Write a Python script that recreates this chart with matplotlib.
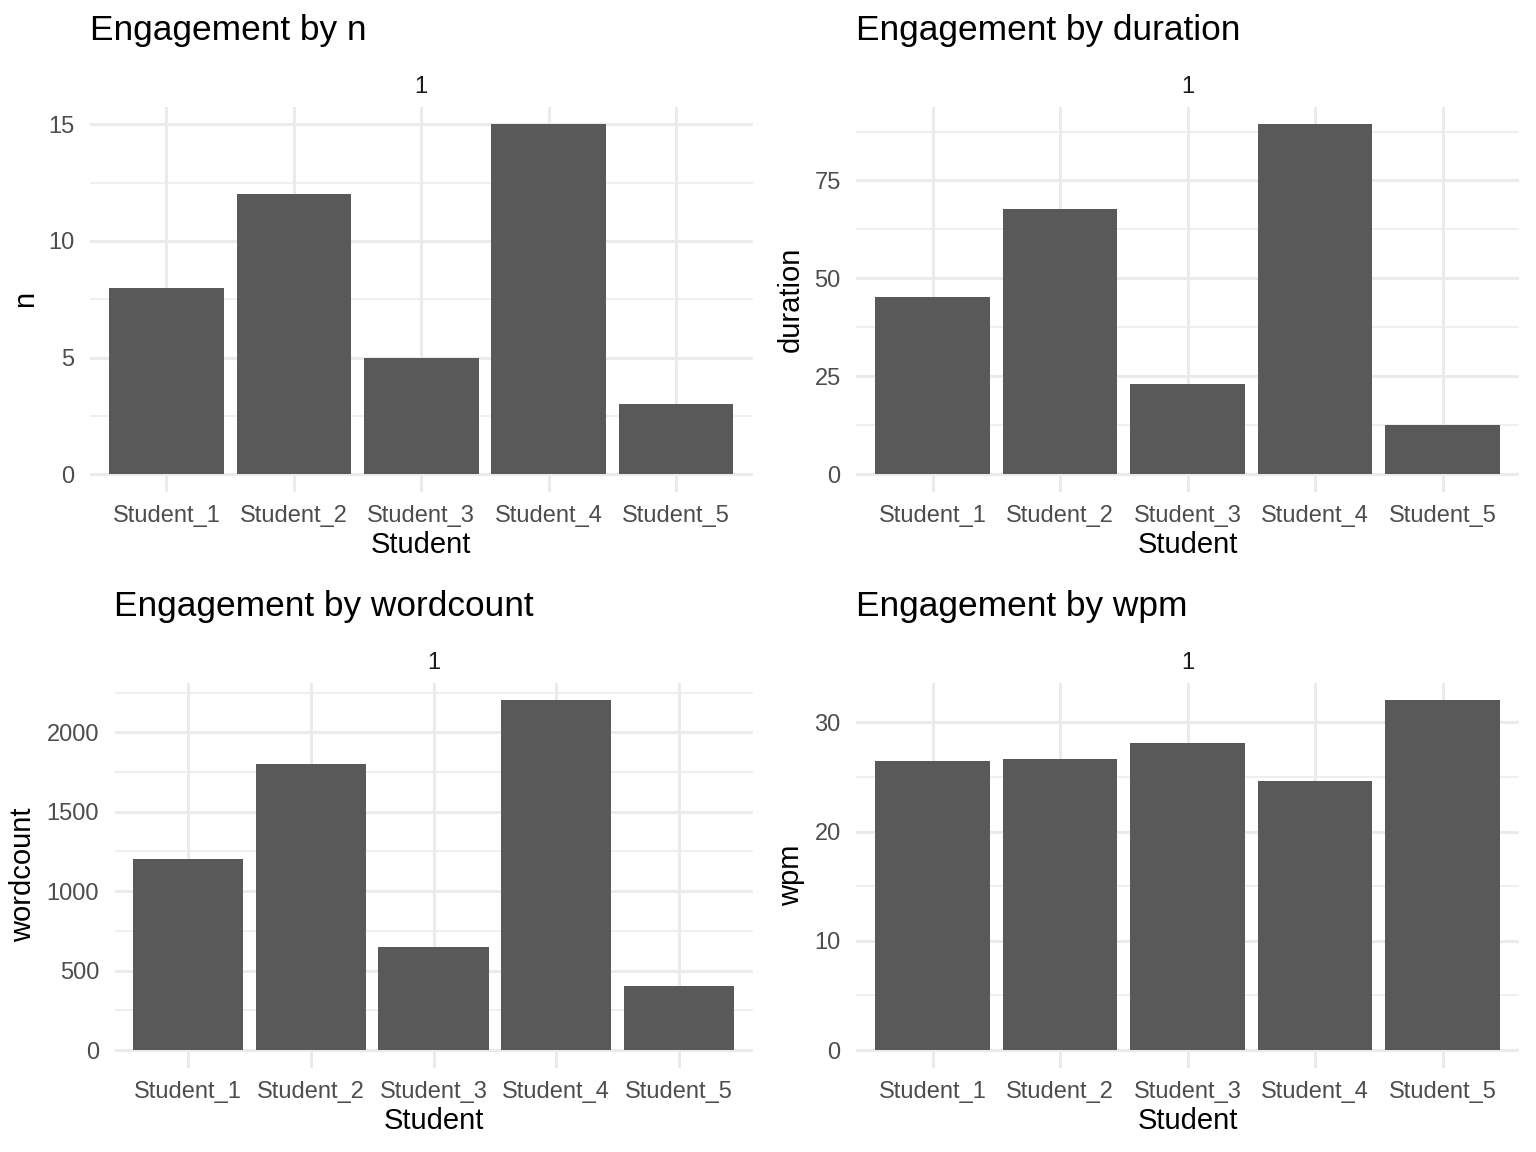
import matplotlib
matplotlib.use("Agg")
import matplotlib.pyplot as plt
from matplotlib.ticker import MultipleLocator
from matplotlib.transforms import offset_copy

plt.rcParams["font.family"] = ["Liberation Sans", "DejaVu Sans"]

students = ["Student_1", "Student_2", "Student_3", "Student_4", "Student_5"]
n_sessions = [8, 12, 5, 15, 3]
duration = [45.2, 67.6, 23.0, 89.3, 12.5]
wordcount = [1200, 1800, 650, 2200, 400]
wpm = [26.5, 26.6, 28.1, 24.6, 32.0]

W, H = 1536, 1152
BAR = "#595959"
GRID = "#EBEBEB"

# (name, values, major step, panel box in px: left, top, right, bottom)
panels = [
    ("n", n_sessions, 5, (90, 107, 752.5, 491.5)),
    ("duration", duration, 25, (856, 107, 1519, 491.5)),
    ("wordcount", wordcount, 500, (114.5, 683, 752.5, 1067.5)),
    ("wpm", wpm, 10, (856, 683, 1519, 1067.5)),
]

fig = plt.figure(figsize=(W / 100, H / 100), dpi=100)
fig.patch.set_facecolor("white")

for name, vals, step, (l, t, r, b) in panels:
    ax = fig.add_axes([l / W, 1 - b / H, (r - l) / W, (b - t) / H])
    x = list(range(1, len(students) + 1))
    ax.bar(x, vals, width=0.9, color=BAR, zorder=3)

    top = max(vals)
    ax.set_ylim(-0.05 * top, 1.05 * top)
    ax.set_xlim(0.4, len(students) + 0.6)
    ax.set_xticks(x)
    ax.set_xticklabels(students)
    ax.yaxis.set_major_locator(MultipleLocator(step))
    ax.yaxis.set_minor_locator(MultipleLocator(step / 2))

    ax.grid(True, which="major", color=GRID, linewidth=2.2, zorder=0)
    ax.grid(True, which="minor", axis="y", color=GRID, linewidth=1.1, zorder=0)
    ax.set_axisbelow(True)
    for s in ax.spines.values():
        s.set_visible(False)
    ax.tick_params(which="both", length=0)
    ax.tick_params(axis="x", labelsize=17, labelcolor="#4D4D4D", pad=9.5)
    ax.tick_params(axis="y", labelsize=17, labelcolor="#4D4D4D", pad=11)

    ax.set_xlabel("Student", fontsize=21, color="black", labelpad=3)
    ax.set_ylabel(name, fontsize=21, color="black", labelpad=7)

    # facet strip label
    ax.set_title("1", fontsize=17, color="#1A1A1A", pad=10)

    # plot title, left aligned with the panel
    tr = offset_copy(ax.transAxes, fig=fig, x=0, y=48, units="points")
    ax.text(0, 1, "Engagement by " + name, transform=tr, fontsize=25.4,
            color="black", ha="left", va="baseline")

fig.savefig("out.png", dpi=100, facecolor="white")
